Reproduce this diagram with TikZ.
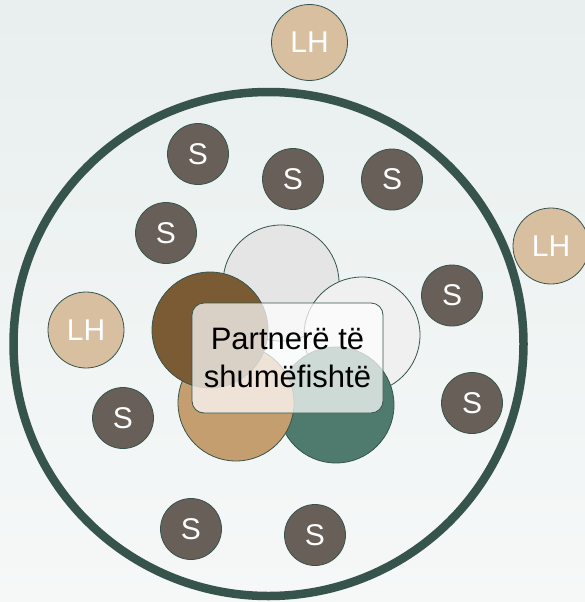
\documentclass[tikz,border=0pt]{standalone}
\usepackage{fontspec}
\setmainfont{Liberation Sans}
\definecolor{bgtop}{HTML}{E8EFEE}
\definecolor{bgbot}{HTML}{F6F8F8}
\definecolor{ring}{HTML}{36544C}
\definecolor{sfill}{HTML}{685F59}
\definecolor{lhfill}{HTML}{D8BFA0}
\definecolor{pgrey}{HTML}{E5E5E5}
\definecolor{pwhite}{HTML}{F0F0F0}
\definecolor{pbrown}{HTML}{7B5B33}
\definecolor{ptan}{HTML}{C49E6E}
\definecolor{pgreen}{HTML}{4F7B6F}
\tikzset{
  lbl/.style={font=\fontsize{30}{36}\selectfont, text=white},
  sbub/.style={circle, draw=ring, line width=0.8pt, fill=sfill, minimum size=61pt, inner sep=0pt, lbl},
  lhbub/.style={circle, draw=ring, line width=0.8pt, fill=lhfill, minimum size=76pt, inner sep=0pt, lbl},
  petal/.style={circle, draw=ring, line width=0.8pt, minimum size=116pt, inner sep=0pt},
  centerbox/.style={rectangle, rounded corners=12pt, draw=ring, line width=0.8pt, fill=white, fill opacity=0.72, text opacity=1, minimum width=191pt, minimum height=110pt, align=center, font=\fontsize{31}{38}\selectfont, text=black}
}
\begin{document}
\begin{tikzpicture}[x=1pt,y=-1pt]
\shade[top color=bgtop, bottom color=bgbot] (0,0) rectangle (585,602);
\useasboundingbox (0,0) rectangle (585,602);
% outer ring
\draw[ring, line width=8.5pt] (268.5,344) ellipse [x radius=255, y radius=252];
% petals
\node[petal, fill=pgrey]  (pt) at (281,283) {};
\node[petal, fill=pwhite] (pr) at (362,335) {};
\node[petal, fill=pgreen] (pg) at (336,405) {};
\node[petal, fill=ptan]   (pn) at (236,403) {};
\node[petal, fill=pbrown] (pb) at (210,330) {};
\node[centerbox] (box) at (287.5,358) {Partnerë të\\shumëfishtë};
% S bubbles
\node[sbub] (s1) at (198,154) {S};
\node[sbub] (s2) at (293,179) {S};
\node[sbub] (s3) at (392,179.5) {S};
\node[sbub] (s4) at (166,233) {S};
\node[sbub] (s5) at (452,295.5) {S};
\node[sbub] (s6) at (123,418) {S};
\node[sbub] (s7) at (472,403) {S};
\node[sbub] (s8) at (191,529) {S};
\node[sbub] (s9) at (315,535) {S};
% LH bubbles
\node[lhbub] (lh1) at (309.5,42.5) {LH};
\node[lhbub] (lh2) at (551,246) {LH};
\node[lhbub] (lh3) at (86,330) {LH};
\end{tikzpicture}
\end{document}
